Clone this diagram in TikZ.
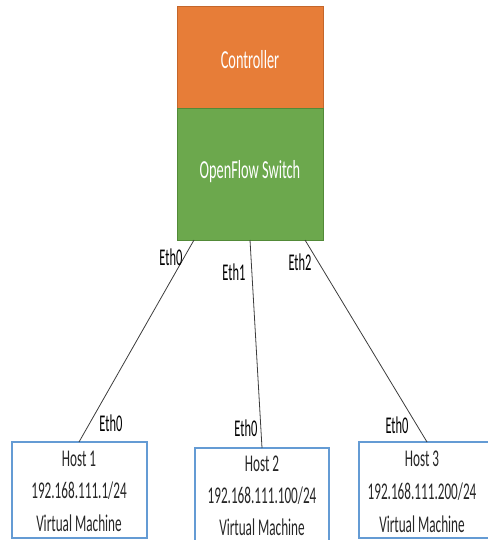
\documentclass[tikz,border=0pt]{standalone}
\usepackage{fontspec}
\setmainfont{Carlito}
\definecolor{ctrlfill}{RGB}{231,125,56}
\definecolor{ctrlline}{RGB}{196,102,42}
\definecolor{swfill}{RGB}{108,168,77}
\definecolor{swline}{RGB}{82,138,56}
\definecolor{hostline}{RGB}{100,155,212}
\definecolor{wire}{RGB}{60,60,60}
\tikzset{
  boxtext/.style={text=white, font=\fontsize{26}{30}\selectfont, xscale=0.55, inner sep=0pt},
  hostbox/.style={draw=hostline, line width=1.3pt},
  hosttext/.style={font=\fontsize{24}{28}\selectfont, xscale=0.55, inner sep=0pt, text=black!85},
  ethlabel/.style={font=\fontsize{24}{28}\selectfont, xscale=0.52, inner sep=0pt},
  link/.style={draw=wire, line width=0.8pt}
}
\begin{document}
\begin{tikzpicture}[x=1pt, y=-1pt]
\useasboundingbox (0,0) rectangle (487,540);

% controller and switch stack
\draw[fill=ctrlfill, draw=ctrlline, line width=0.8pt] (177,6) rectangle (323,108);
\draw[fill=swfill, draw=swline, line width=0.8pt] (177,108) rectangle (323,240);
\node[boxtext] (ctrl) at (250,60) {Controller};
\node[boxtext] (sw) at (250,172) {OpenFlow Switch};

% host boxes
\draw[hostbox] (12,442) rectangle (147,538);
\draw[hostbox] (195,448) rectangle (329,545);
\draw[hostbox] (359,442) rectangle (492,538);

\node[hosttext] (h1a) at (79,459) {Host 1};
\node[hosttext] (h1b) at (79,491) {192.168.111.1/24};
\node[hosttext] (h1c) at (79,523) {Virtual Machine};
\node[hosttext] (h2a) at (262,464) {Host 2};
\node[hosttext] (h2b) at (262,496) {192.168.111.100/24};
\node[hosttext] (h2c) at (262,527) {Virtual Machine};
\node[hosttext] (h3a) at (422,459) {Host 3};
\node[hosttext] (h3b) at (422,492) {192.168.111.200/24};
\node[hosttext] (h3c) at (422,524) {Virtual Machine};

% port attachment points
\coordinate (s0) at (194,240);
\coordinate (s1) at (250,240);
\coordinate (s2) at (305,240);
\coordinate (t1) at (79,442);
\coordinate (t2) at (262,448);
\coordinate (t3) at (427,442);

\draw[link] (s0) -- (t1);
\draw[link] (s1) -- (t2);
\draw[link] (s2) -- (t3);

% port labels
\node[ethlabel] (e0) at (171,257) {Eth0};
\node[ethlabel] (e1) at (234,272) {Eth1};
\node[ethlabel] (e2) at (300,262) {Eth2};
\node[ethlabel] (f1) at (111,423) {Eth0};
\node[ethlabel] (f2) at (246,428) {Eth0};
\node[ethlabel] (f3) at (397,425) {Eth0};
\end{tikzpicture}
\end{document}
